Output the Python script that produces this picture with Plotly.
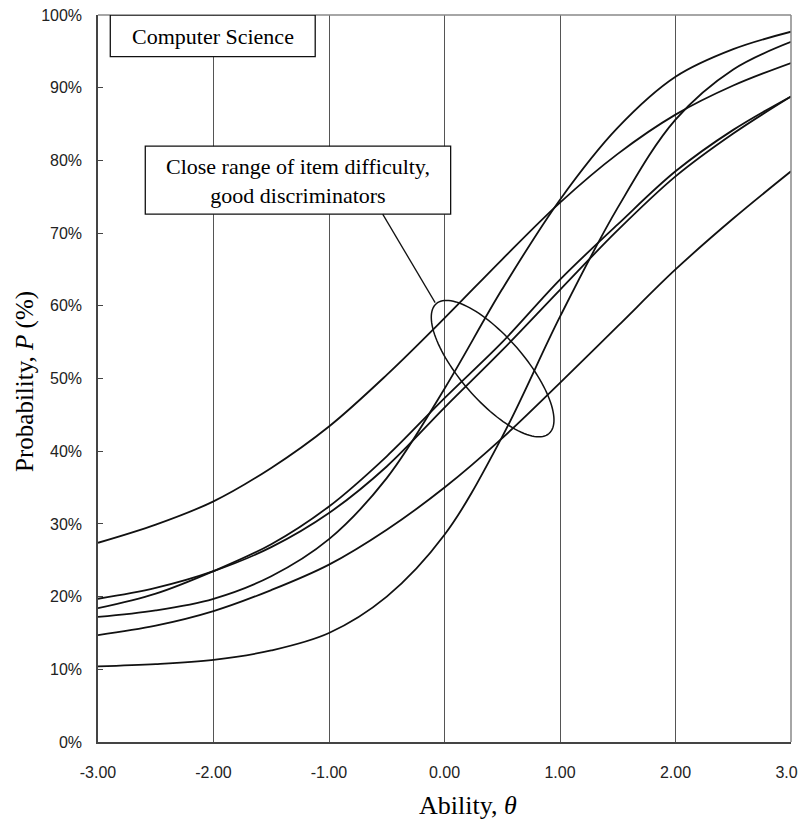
import numpy as np
import plotly.graph_objects as go

# ---- data ----
theta = [-3.0, -2.5, -2.0, -1.5, -1.0, -0.5, 0.0, 0.5, 1.0, 1.5, 2.0, 2.5, 3.0]
item_1 = [27.4, 29.9, 33.1, 37.7, 43.4, 50.5, 58.3, 66.4, 74.2, 80.9, 86.3, 90.3, 93.4]
item_2 = [19.7, 21.2, 23.5, 26.8, 31.5, 37.9, 46.0, 53.9, 62.2, 70.4, 77.8, 83.7, 88.8]
item_3 = [18.4, 20.4, 23.5, 27.2, 32.4, 39.3, 47.3, 55.0, 63.6, 71.2, 78.5, 84.2, 88.8]
item_4 = [17.2, 18.1, 19.7, 22.8, 27.9, 36.3, 48.6, 62.3, 74.6, 84.5, 91.5, 95.3, 97.7]
item_5 = [14.7, 16.0, 18.0, 20.9, 24.4, 29.2, 35.0, 41.8, 49.4, 57.2, 65.0, 72.0, 78.5]
item_6 = [10.4, 10.7, 11.3, 12.6, 15.0, 20.0, 28.5, 42.0, 58.5, 73.5, 85.6, 92.5, 96.3]

x_tickvals = [-3, -2, -1, 0, 1, 2, 3]
x_ticktext = ["-3.00", "-2.00", "-1.00", "0.00", "1.00", "2.00", "3.00"]
y_tickvals = [0, 10, 20, 30, 40, 50, 60, 70, 80, 90, 100]
y_ticktext = ["0%", "10%", "20%", "30%", "40%", "50%", "60%", "70%", "80%", "90%", "100%"]

W, H = 806, 825
OFF = 8  # page body margin: the figure appears shifted by this amount

# plot area in reference-picture pixels
RX0, RX1, RY0, RY1 = 97.7, 791.0, 15.3, 742.5
ML = RX0 - OFF
MT = RY0 - OFF
MR = W - (RX1 - OFF)
MB = H - (RY1 - OFF)


def dx(px):
    return -3 + 6 * (px - RX0) / (RX1 - RX0)


def dy(py):
    return 100 * (RY1 - py) / (RY1 - RY0)


def paper_x(px):
    return (px - RX0) / (RX1 - RX0)


def paper_y(py):
    return (RY1 - py) / (RY1 - RY0)


SERIF = "Times New Roman, Liberation Serif, serif"
SANS = "Arial, Liberation Sans, sans-serif"

fig = go.Figure()
for vals in [item_1, item_2, item_3, item_4, item_5, item_6]:
    fig.add_trace(go.Scatter(
        x=theta, y=vals, mode="lines",
        line=dict(color="#111111", width=1.8, shape="spline", smoothing=1.0),
        showlegend=False, hoverinfo="skip"))

shapes = []
# top and right frame (grey)
shapes.append(dict(type="line", xref="paper", yref="paper", x0=0, x1=1, y0=1, y1=1,
                   line=dict(color="#888888", width=1.5)))
shapes.append(dict(type="line", xref="paper", yref="paper", x0=1, x1=1, y0=0, y1=1,
                   line=dict(color="#888888", width=1.5)))
# "Computer Science" box
shapes.append(dict(type="rect", xref="x", yref="y", x0=dx(110), x1=dx(315), y0=dy(57), y1=dy(15.5),
                   line=dict(color="#111111", width=1.3), fillcolor="white", layer="above"))
# comment box
shapes.append(dict(type="rect", xref="x", yref="y", x0=dx(145), x1=dx(450.5), y0=dy(214.5), y1=dy(146.5),
                   line=dict(color="#111111", width=1.3), fillcolor="white", layer="above"))
# connector line
shapes.append(dict(type="line", xref="x", yref="y", x0=dx(382.5), y0=dy(214.5), x1=dx(435), y1=dy(303),
                   line=dict(color="#111111", width=1.3), layer="above"))
# rotated ellipse
cx, cy, a, b, ang = 492.5, 369.0, 86.0, 32.0, np.deg2rad(49.0)
t = np.linspace(0, 2 * np.pi, 121)
ex = cx + a * np.cos(t) * np.cos(ang) - b * np.sin(t) * np.sin(ang)
ey = cy + a * np.cos(t) * np.sin(ang) + b * np.sin(t) * np.cos(ang)
path = "M " + " L ".join(f"{dx(px):.5f},{dy(py):.4f}" for px, py in zip(ex, ey)) + " Z"
shapes.append(dict(type="path", xref="x", yref="y", path=path,
                   line=dict(color="#111111", width=1.5), layer="above"))

annotations = [
    dict(xref="x", yref="y", x=dx(212.5), y=dy(36.5), text="Computer Science", showarrow=False,
         font=dict(family=SERIF, size=22, color="black"), xanchor="center", yanchor="middle"),
    dict(xref="x", yref="y", x=dx(298), y=dy(181), text="Close range of item difficulty,<br>good discriminators",
         showarrow=False, font=dict(family=SERIF, size=22, color="black"), xanchor="center", yanchor="middle"),
    dict(xref="paper", yref="paper", x=paper_x(467.5), y=paper_y(806), text="Ability, <i>θ</i>",
         showarrow=False, font=dict(family=SERIF, size=26, color="black"), xanchor="center", yanchor="middle"),
    dict(xref="paper", yref="paper", x=paper_x(24), y=paper_y(382), text="Probability, <i>P</i> (%)",
         showarrow=False, textangle=-90, font=dict(family=SERIF, size=25, color="black"),
         xanchor="center", yanchor="middle"),
]

fig.update_layout(
    width=W, height=H,
    margin=dict(l=ML, r=MR, t=MT, b=MB, pad=0),
    paper_bgcolor="white", plot_bgcolor="white",
    shapes=shapes, annotations=annotations,
    xaxis=dict(range=[-3, 3], tickvals=x_tickvals, ticktext=x_ticktext,
               showgrid=True, gridcolor="#555555", gridwidth=1, zeroline=False,
               showline=True, linecolor="#444444", linewidth=1.5, ticks="",
               automargin=False, ticklabeloverflow="allow",
               tickfont=dict(family=SANS, size=16, color="#222222"), ticklabelstandoff=15),
    yaxis=dict(range=[0, 100], tickvals=y_tickvals, ticktext=y_ticktext,
               showgrid=False, zeroline=False,
               showline=True, linecolor="#444444", linewidth=1.5,
               ticks="inside", ticklen=5, tickcolor="#444444", automargin=False,
               ticklabeloverflow="allow",
               tickfont=dict(family=SANS, size=16, color="#222222"), ticklabelstandoff=11),
)

fig.write_html("out.html")
